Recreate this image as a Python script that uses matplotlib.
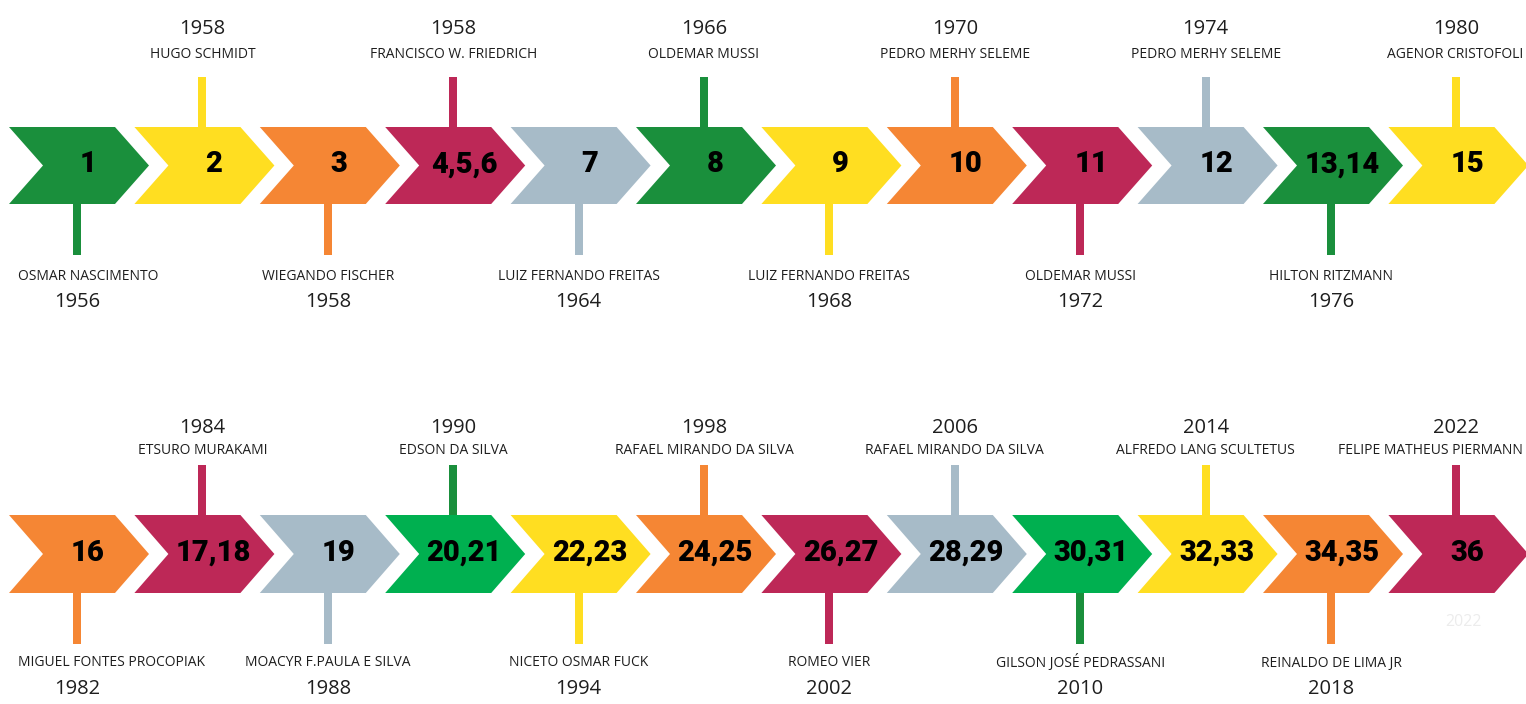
import matplotlib
matplotlib.use('Agg')
import matplotlib.pyplot as plt
from matplotlib.patches import Polygon, Rectangle

# row 1
labels_1 = ['1', '2', '3', '4,5,6', '7', '8', '9', '10', '11', '12', '13,14', '15']
names_1 = ['OSMAR NASCIMENTO', 'HUGO SCHMIDT', 'WIEGANDO FISCHER', 'FRANCISCO W. FRIEDRICH',
           'LUIZ FERNANDO FREITAS', 'OLDEMAR MUSSI', 'LUIZ FERNANDO FREITAS', 'PEDRO MERHY SELEME',
           'OLDEMAR MUSSI', 'PEDRO MERHY SELEME', 'HILTON RITZMANN', 'AGENOR CRISTOFOLI']
years_1 = ['1956', '1958', '1958', '1958', '1964', '1966', '1968', '1970', '1972', '1974', '1976', '1980']
colors_1 = ['green', 'yellow', 'orange', 'crimson', 'gray', 'green',
            'yellow', 'orange', 'crimson', 'gray', 'green', 'yellow']

# row 2
labels_2 = ['16', '17,18', '19', '20,21', '22,23', '24,25', '26,27', '28,29', '30,31', '32,33', '34,35', '36']
names_2 = ['MIGUEL FONTES PROCOPIAK', 'ETSURO MURAKAMI', 'MOACYR F.PAULA E SILVA', 'EDSON DA SILVA',
           'NICETO OSMAR FUCK', 'RAFAEL MIRANDO DA SILVA', 'ROMEO VIER', 'RAFAEL MIRANDO DA SILVA',
           'GILSON JOSÉ PEDRASSANI', 'ALFREDO LANG SCULTETUS', 'REINALDO DE LIMA JR', 'FELIPE MATHEUS PIERMANN']
years_2 = ['1982', '1984', '1988', '1990', '1994', '1998', '2002', '2006', '2010', '2014', '2018', '2022']
colors_2 = ['orange', 'crimson', 'gray', 'green2', 'yellow', 'orange',
            'crimson', 'gray', 'green2', 'yellow', 'orange', 'crimson']

PALETTE = {
    'green': '#1a8f3c', 'green2': '#00b050', 'yellow': '#ffde21', 'orange': '#f58634',
    'crimson': '#bd2857', 'gray': '#a7bbc8',
}
STEM = {'green2': '#1a8f3c'}

W, H = 1526, 704
fig = plt.figure(figsize=(W / 100, H / 100), dpi=100)
ax = fig.add_axes([0, 0, 1, 1])
ax.set_xlim(0, W)
ax.set_ylim(H, 0)
ax.axis('off')

TXT = '#1e1e1e'
name_texts = []


def draw_row(labels, names, years, colors, top, bottom, up_year, up_name, dn_name, dn_year):
    mid = (top + bottom) / 2
    for i, lab in enumerate(labels):
        left = 9 + i * 125.4
        c = PALETTE[colors[i]]
        pts = [(left, top), (left + 106, top), (left + 140, mid),
               (left + 106, bottom), (left, bottom), (left + 34, mid)]
        ax.add_patch(Polygon(pts, closed=True, facecolor=c, edgecolor='none', zorder=2))
        ax.text(left + 79, mid - 1, lab, ha='center', va='center', fontsize=21,
                family='Roboto', fontweight='black', color='black', zorder=3)
        sx = left + 68
        sc = STEM.get(colors[i], c)
        if i % 2 == 1:
            ax.add_patch(Rectangle((sx - 4, top - 50), 8, 50, facecolor=sc, edgecolor='none', zorder=1))
            ax.text(sx, up_year, years[i], ha='center', va='center', fontsize=14.5,
                    family='Open Sans', color=TXT)
            t = ax.text(sx, up_name, names[i], ha='center', va='center', fontsize=10,
                        family='Open Sans', color=TXT)
        else:
            ax.add_patch(Rectangle((sx - 4, bottom), 8, 51, facecolor=sc, edgecolor='none', zorder=1))
            t = ax.text(sx, dn_name, names[i], ha='center', va='center', fontsize=10,
                        family='Open Sans', color=TXT)
            ax.text(sx, dn_year, years[i], ha='center', va='center', fontsize=14.5,
                    family='Open Sans', color=TXT)
        name_texts.append(t)


draw_row(labels_1, names_1, years_1, colors_1, 127, 204, 29, 55, 276, 302)
draw_row(labels_2, names_2, years_2, colors_2, 515, 593, 428, 451, 663, 689)

# faint leftover label
ax.text(1463, 622, '2022', ha='center', va='center', fontsize=11.5,
        family='Open Sans', color='#ececec')

# keep names inside the canvas
fig.canvas.draw()
r = fig.canvas.get_renderer()
for t in name_texts:
    bb = t.get_window_extent(renderer=r)
    x, y = t.get_position()
    if bb.x0 < 18:
        t.set_x(x + (18 - bb.x0))
    elif bb.x1 > W - 3:
        t.set_x(x - (bb.x1 - (W - 3)))

plt.savefig('out.png', dpi=100)
plt.close()
